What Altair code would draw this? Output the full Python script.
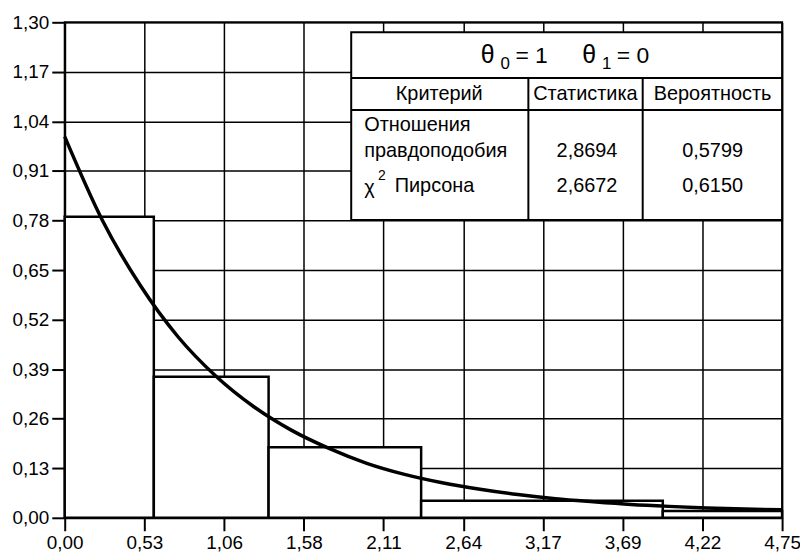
import altair as alt
import pandas as pd

# ---- data ----
bin_left = [0.00, 0.59, 1.35, 2.36, 3.96]
bin_right = [0.59, 1.35, 2.36, 3.96, 4.75]
bin_height = [0.79, 0.37, 0.185, 0.045, 0.018]

curve_x = [0.0, 0.25, 0.5, 0.75, 1.0, 1.25, 1.5, 1.75, 2.0, 2.25,
           2.5, 2.75, 3.0, 3.25, 3.5, 3.75, 4.0, 4.25, 4.5, 4.75]
curve_y = [1.00, 0.78, 0.61, 0.475, 0.372, 0.292, 0.23, 0.182, 0.143, 0.114,
           0.092, 0.075, 0.061, 0.05, 0.042, 0.035, 0.03, 0.026, 0.023, 0.021]

x_ticks = [0.0, 0.5278, 1.0556, 1.5833, 2.1111, 2.6389, 3.1667, 3.6944, 4.2222, 4.75]
y_ticks = [0.0, 0.13, 0.26, 0.39, 0.52, 0.65, 0.78, 0.91, 1.04, 1.17, 1.30]

header = ["Критерий", "Статистика", "Вероятность"]
criteria = ["Отношения", "правдоподобия", "Пирсона"]
statistic = ["2,8694", "2,6672"]
probability = ["0,5799", "0,6150"]

FONT = "Liberation Sans"
X_DOM = [0, 4.75]
Y_DOM = [0, 1.30]

xs = alt.Scale(domain=X_DOM, nice=False, zero=False)
ys = alt.Scale(domain=Y_DOM, nice=False)

lab = "replace(format(datum.value, '.2f'), '.', ',')"

bars_df = pd.DataFrame({"x": bin_left, "x2": bin_right, "h": bin_height})
bars = alt.Chart(bars_df).mark_rect(fill="white", stroke="black", strokeWidth=2.5).encode(
    x=alt.X("x:Q", scale=xs, axis=alt.Axis(values=x_ticks, labelExpr=lab, title=None,
                                           grid=True, labelPadding=3)),
    x2="x2:Q",
    y=alt.Y("h:Q", scale=ys, axis=alt.Axis(values=y_ticks, labelExpr=lab, title=None,
                                           grid=True, labelPadding=3)),
    y2=alt.datum(0),
)

curve_df = pd.DataFrame({"x": curve_x, "y": curve_y})
curve = alt.Chart(curve_df).mark_line(color="black", strokeWidth=3.5, interpolate="monotone").encode(
    x=alt.X("x:Q", scale=xs), y=alt.Y("y:Q", scale=ys)
)

# ---- table (layout in data units) ----
T_L, T_R, T_T, T_B = 1.897, 4.75, 1.274, 0.781
ROW1, ROW2 = 1.154, 1.070
COL1, COL2 = 3.070, 3.827

box = alt.Chart(pd.DataFrame({"x": [T_L], "x2": [T_R], "y": [T_T], "y2": [T_B]})).mark_rect(
    fill="white", stroke="black", strokeWidth=2
).encode(x=alt.X("x:Q", scale=xs), x2="x2:Q", y=alt.Y("y:Q", scale=ys), y2="y2:Q")

hlines = alt.Chart(pd.DataFrame({"x": [T_L, T_L], "x2": [T_R, T_R], "y": [ROW1, ROW2]})).mark_rule(
    color="black", strokeWidth=2
).encode(x=alt.X("x:Q", scale=xs), x2="x2:Q", y=alt.Y("y:Q", scale=ys))

vlines = alt.Chart(pd.DataFrame({"x": [COL1, COL2], "y": [ROW1, ROW1], "y2": [T_B, T_B]})).mark_rule(
    color="black", strokeWidth=2
).encode(x=alt.X("x:Q", scale=xs), y=alt.Y("y:Q", scale=ys), y2="y2:Q")


def txt(rows, size, align="left", baseline="middle"):
    df = pd.DataFrame(rows, columns=["x", "y", "t"])
    return alt.Chart(df).mark_text(font=FONT, fontSize=size, align=align, baseline=baseline,
                                   color="black").encode(
        x=alt.X("x:Q", scale=xs), y=alt.Y("y:Q", scale=ys), text="t:N")


title_theta = txt([(2.754, 1.193, "θ"), (3.426, 1.193, "θ")], 25, baseline="alphabetic")
title_eq = txt([(2.984, 1.193, "= 1"), (3.656, 1.193, "= 0")], 23, baseline="alphabetic")
title_sub = txt([(2.885, 1.178, "0"), (3.557, 1.178, "1")], 17, baseline="alphabetic")

head = txt([(2.48, 1.112, header[0]), (3.448, 1.112, header[1]), (4.29, 1.112, header[2])],
           20, align="center")
body_left = txt([(1.983, 1.031, criteria[0]), (1.983, 0.961, criteria[1]),
                 (1.983, 0.866, "χ"), (2.185, 0.871, criteria[2])], 20)
sup = txt([(2.075, 0.898, "2")], 14)
body_num = txt([(3.458, 0.961, statistic[0]), (4.29, 0.961, probability[0]),
                (3.458, 0.871, statistic[1]), (4.29, 0.871, probability[1])], 20, align="center")

chart = alt.layer(bars, curve, box, hlines, vlines, title_theta, title_eq, title_sub, head,
                  body_left, sup, body_num).properties(
    width=721, height=498,
    autosize=alt.AutoSizeParams(type="none"),
    padding={"left": 57, "top": 13, "right": 18, "bottom": 33},
).configure_view(stroke="black", strokeWidth=2).configure_axis(
    domainColor="black", domainWidth=2, tickColor="black", tickWidth=2, tickSize=13,
    gridColor="black", gridWidth=1.5, gridOpacity=1, labelFont=FONT, labelFontSize=19,
    labelColor="black", labelOverlap=False, labelFlush=False
)

chart.save("out.html", embed_options={"renderer": "svg", "actions": False})
